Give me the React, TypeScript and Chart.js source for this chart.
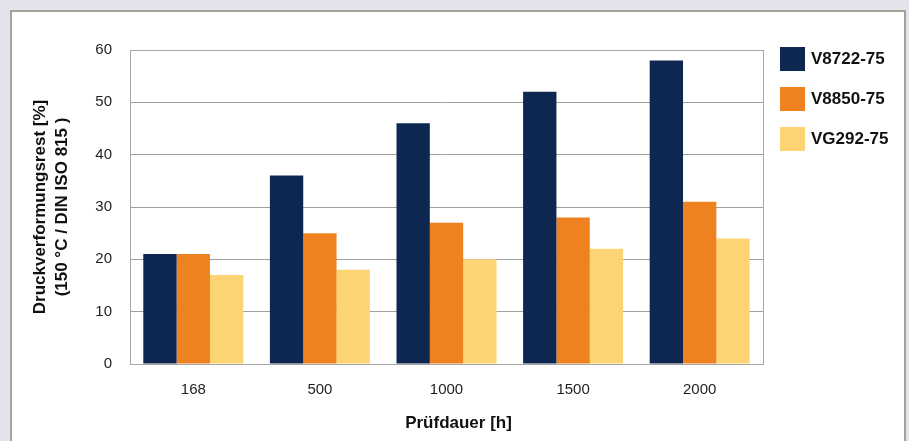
import React, { useEffect, useRef } from "react";
import { Chart, registerables } from "chart.js";

Chart.register(...registerables);

// Prüfdauer in Stunden
const categories = ["168", "500", "1000", "1500", "2000"];

// Druckverformungsrest [%] je Werkstoff
const seriesNames = ["V8722-75", "V8850-75", "VG292-75"];
const v8722 = [21, 36, 46, 52, 58];
const v8850 = [21, 25, 27, 28, 31];
const vg292 = [17, 18, 20, 22, 24];

const seriesColors = ["#0d2751", "#ee8220", "#fdd474"];

const yTitleLines = ["Druckverformungsrest [%]", "(150 °C / DIN ISO 815 )"];
const xTitle = "Prüfdauer [h]";

const FONT = "'Liberation Sans', Arial, Helvetica, sans-serif";

// Rahmen um die Zeichenfläche, x-Achsentitel und Legende
const decorPlugin = {
  id: "decor",
  beforeDatasetsDraw(chart: any) {
    const { ctx, chartArea } = chart;
    ctx.save();
    ctx.strokeStyle = "#a8a8a8";
    ctx.lineWidth = 1;
    ctx.strokeRect(
      Math.round(chartArea.left) + 0.5,
      Math.round(chartArea.top) + 0.5,
      Math.round(chartArea.right - chartArea.left),
      Math.round(chartArea.bottom - chartArea.top)
    );
    ctx.restore();
  },
  afterDraw(chart: any) {
    const { ctx, chartArea } = chart;
    ctx.save();
    // x-Achsentitel
    ctx.fillStyle = "#111";
    ctx.font = `bold 17px ${FONT}`;
    ctx.textAlign = "center";
    ctx.textBaseline = "middle";
    ctx.fillText(xTitle, (chartArea.left + chartArea.right) / 2 + 12, chartArea.bottom + 59);

    // Legende
    const lx = chartArea.right + 17;
    let ly = chartArea.top - 3;
    chart.data.datasets.forEach((ds: any) => {
      ctx.fillStyle = ds.backgroundColor;
      ctx.fillRect(lx, ly, 25, 24);
      ctx.fillStyle = "#111";
      ctx.font = `bold 17px ${FONT}`;
      ctx.textAlign = "left";
      ctx.textBaseline = "middle";
      ctx.fillText(ds.label, lx + 31, ly + 12);
      ly += 40;
    });
    ctx.restore();
  },
};

export default function App() {
  const canvasRef = useRef<HTMLCanvasElement | null>(null);

  useEffect(() => {
    const canvas = canvasRef.current;
    if (!canvas) return;
    const values = [v8722, v8850, vg292];
    const chart = new Chart(canvas, {
      type: "bar",
      data: {
        labels: categories,
        datasets: seriesNames.map((name, i) => ({
          label: name,
          data: values[i],
          backgroundColor: seriesColors[i],
          borderWidth: 0,
          categoryPercentage: 0.79,
          barPercentage: 1.0,
        })),
      },
      options: {
        responsive: false,
        animation: false,
        devicePixelRatio: 1,
        layout: { padding: { left: 0, top: 50, right: 146, bottom: 0 } },
        plugins: {
          legend: { display: false },
          tooltip: { enabled: false },
          title: { display: false },
        },
        scales: {
          x: {
            grid: { display: false, drawTicks: false },
            border: { display: false },
            ticks: {
              color: "#1e1e1e",
              font: { family: FONT, size: 15 },
              padding: 17,
            },
            afterFit: (scale: any) => {
              scale.height = 77;
            },
          },
          y: {
            min: 0,
            max: 60,
            grid: { color: "#a0a0a0", lineWidth: 1, drawTicks: false },
            border: { display: false },
            ticks: {
              stepSize: 10,
              color: "#1e1e1e",
              font: { family: FONT, size: 15 },
              padding: 18,
            },
            title: {
              display: true,
              text: yTitleLines,
              color: "#111",
              font: { family: FONT, size: 17, weight: "bold", lineHeight: 1.3 },
              padding: { top: 29, bottom: 0 },
            },
            afterFit: (scale: any) => {
              scale.width = 130;
            },
          },
        },
      },
      plugins: [decorPlugin],
    });
    return () => chart.destroy();
  }, []);

  return (
    <div
      style={{
        position: "fixed",
        left: 0,
        top: 0,
        width: 909,
        height: 441,
        background: "#e3e3ee",
        overflow: "hidden",
      }}
    >
      <div
        style={{
          position: "absolute",
          left: 10,
          top: 10,
          width: 892,
          height: 460,
          background: "#ffffff",
          borderLeft: "2px solid #a6a29a",
          borderTop: "2px solid #a6a29a",
          borderRight: "2px solid #a6a29a",
        }}
      />
      <canvas
        ref={canvasRef}
        width={909}
        height={441}
        style={{ position: "absolute", left: 0, top: 0, width: 909, height: 441 }}
      />
    </div>
  );
}
